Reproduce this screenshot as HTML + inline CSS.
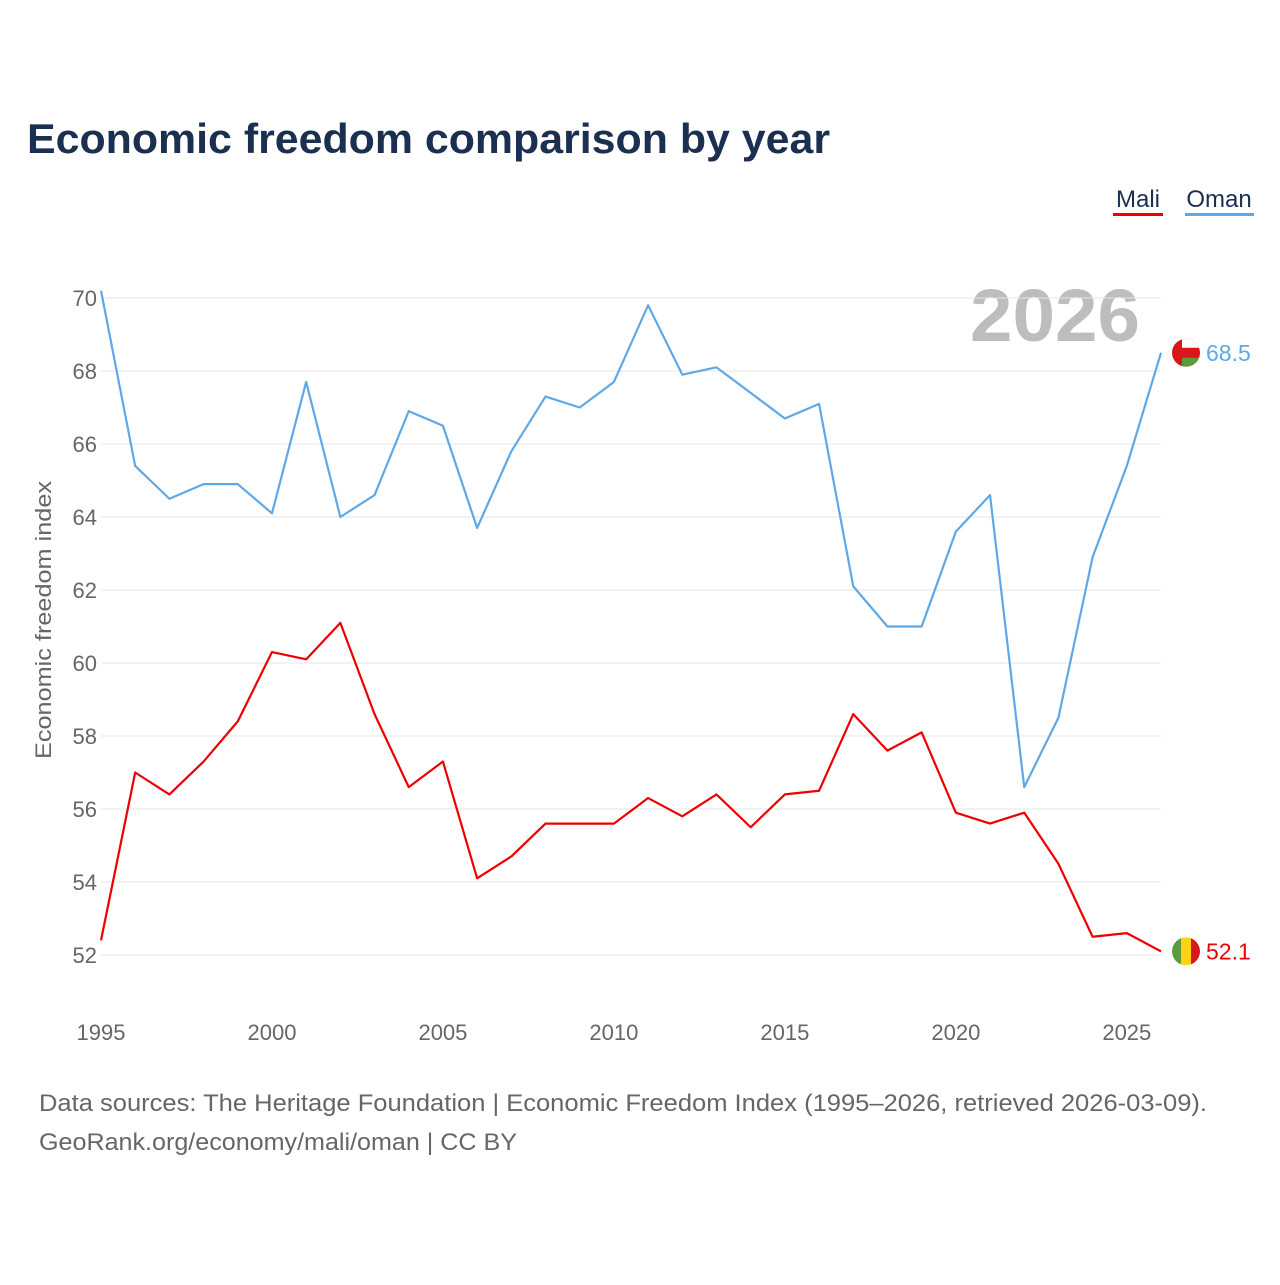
<!DOCTYPE html>
<html><head><meta charset="utf-8"><style>
body{margin:0;background:#fff;font-family:"Liberation Sans",sans-serif;}
</style></head><body>
<svg width="1280" height="1280" viewBox="0 0 1280 1280" font-family="Liberation Sans, sans-serif">
<text x="27" y="153" font-size="42" font-weight="bold" fill="#1b2f50" textLength="803" lengthAdjust="spacingAndGlyphs">Economic freedom comparison by year</text>
<g>
<text x="1138" y="207" font-size="24" fill="#1b2f50" text-anchor="middle">Mali</text>
<rect x="1113" y="213" width="50" height="3" fill="#ee0000"/>
<text x="1219" y="207" font-size="24" fill="#1b2f50" text-anchor="middle">Oman</text>
<rect x="1185" y="213" width="69" height="3" fill="#5fa8e8"/>
</g>
<text x="1055" y="341" font-size="74" font-weight="bold" fill="#bdbdbd" text-anchor="middle" textLength="170" lengthAdjust="spacingAndGlyphs">2026</text>
<g id="grid"></g><g id="axes"></g><g id="series"></g>
<text transform="translate(51,620) rotate(-90)" font-size="22" fill="#666" text-anchor="middle" textLength="278" lengthAdjust="spacingAndGlyphs">Economic freedom index</text>
<text x="39" y="1111" font-size="24" fill="#666" textLength="1168" lengthAdjust="spacingAndGlyphs">Data sources: The Heritage Foundation | Economic Freedom Index (1995–2026, retrieved 2026-03-09).</text>
<text x="39" y="1150" font-size="24" fill="#666" textLength="478" lengthAdjust="spacingAndGlyphs">GeoRank.org/economy/mali/oman | CC BY</text>
</svg>
<script>
const years=[1995,1996,1997,1998,1999,2000,2001,2002,2003,2004,2005,2006,2007,2008,2009,2010,2011,2012,2013,2014,2015,2016,2017,2018,2019,2020,2021,2022,2023,2024,2025,2026];
const omanValues=[70.2,65.4,64.5,64.9,64.9,64.1,67.7,64.0,64.6,66.9,66.5,63.7,65.8,67.3,67.0,67.7,69.8,67.9,68.1,67.4,66.7,67.1,62.1,61.0,61.0,63.6,64.6,56.6,58.5,62.9,65.4,68.5];
const maliValues=[52.4,57.0,56.4,57.3,58.4,60.3,60.1,61.1,58.6,56.6,57.3,54.1,54.7,55.6,55.6,55.6,56.3,55.8,56.4,55.5,56.4,56.5,58.6,57.6,58.1,55.9,55.6,55.9,54.5,52.5,52.6,52.1];
const yTicks=[52,54,56,58,60,62,64,66,68,70];
const xTicks=[1995,2000,2005,2010,2015,2020,2025];
const NS="http://www.w3.org/2000/svg";
const x=v=>101+(v-1995)*(1161-101)/31;
const y=v=>955-(v-52)*(955-298)/18;
function mk(tag,attrs,parent,text){const e=document.createElementNS(NS,tag);for(const k in attrs)e.setAttribute(k,attrs[k]);if(text!==undefined)e.textContent=text;parent.appendChild(e);return e;}
const grid=document.getElementById('grid'),axes=document.getElementById('axes'),ser=document.getElementById('series');
yTicks.forEach(t=>{
 const l=mk('line',{x1:101,x2:1161,y1:y(t),y2:y(t),stroke:'#e6e6e6','stroke-width':1},grid);
 
 
 const tx=mk('text',{x:97,y:y(t)+8,'font-size':22,fill:'#666','text-anchor':'end'},axes,String(t));
 
 
});
xTicks.forEach(t=>{
 const tx=mk('text',{x:x(t),y:1040,'font-size':22,fill:'#666','text-anchor':'middle'},axes,String(t));
 
 
});
function line(vals,color,name){
 const p=mk('polyline',{points:vals.map((v,i)=>x(years[i])+','+y(v)).join(' '),fill:'none',stroke:color,'stroke-width':2.2,'stroke-linejoin':'round'},ser);
 
 
}
line(omanValues,'#5fa8e8','oman-line');
line(maliValues,'#ee0000','mali-line');
const last=years.length-1;
const oy=y(omanValues[last]),my=y(maliValues[last]),fx=1186;
const og=mk('g',{},ser);


mk('clipPath',{id:'oc'},og);mk('circle',{cx:fx,cy:oy,r:14},og.lastChild);
const ogi=mk('g',{'clip-path':'url(#oc)'},og);
mk('rect',{x:fx-14,y:oy-14,width:28,height:28,fill:'#db161b'},ogi);
mk('rect',{x:fx-4,y:oy-14,width:18,height:9,fill:'#fff'},ogi);
mk('rect',{x:fx-4,y:oy+5,width:18,height:9,fill:'#5a9b3b'},ogi);
const ol=mk('text',{x:1206,y:oy+8,'font-size':23,fill:'#5fa8e8'},ser,omanValues[last].toFixed(1));


const mg=mk('g',{},ser);


mk('clipPath',{id:'mc'},mg);mk('circle',{cx:fx,cy:my,r:14},mg.lastChild);
const mgi=mk('g',{'clip-path':'url(#mc)'},mg);
mk('rect',{x:fx-14,y:my-14,width:10,height:28,fill:'#5a9b3b'},mgi);
mk('rect',{x:fx-5,y:my-14,width:10,height:28,fill:'#fcd116'},mgi);
mk('rect',{x:fx+5,y:my-14,width:10,height:28,fill:'#db161b'},mgi);
const ml=mk('text',{x:1206,y:my+8,'font-size':23,fill:'#ee0000'},ser,maliValues[last].toFixed(1));


</script>
</body></html>
